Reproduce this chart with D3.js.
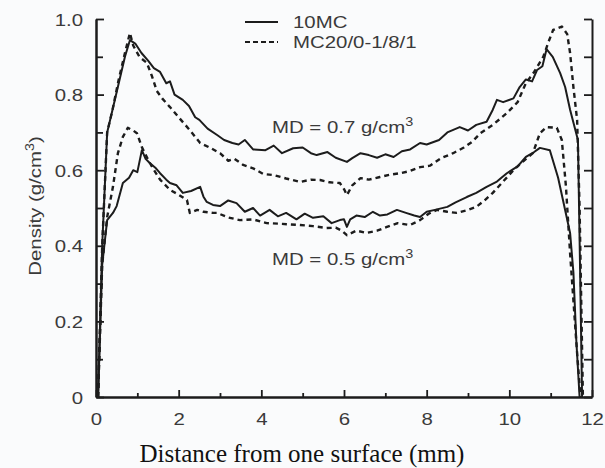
<!DOCTYPE html>
<html>
<head>
<meta charset="utf-8">
<script src="https://cdn.jsdelivr.net/npm/d3@7"></script>
<style>
  body { margin: 0; background: #fafbfc; }
  svg { display: block; }
</style>
</head>
<body>
<div class="canva"></div>
<script>
// density profiles
const mc10_07_x = [0.05,0.15,0.27,0.4,0.55,0.7,0.82,0.95,1.1,1.26,1.4,1.55,1.7,1.79,1.9,2.1,2.25,2.4,2.5,2.7,2.93,3.1,3.3,3.45,3.6,3.8,4.1,4.3,4.5,4.77,5.0,5.2,5.34,5.6,5.8,6.07,6.2,6.4,6.6,6.8,7.0,7.2,7.4,7.6,7.84,8.0,8.3,8.5,8.8,9.0,9.2,9.45,9.6,9.7,9.85,10.1,10.25,10.4,10.55,10.67,10.8,10.9,11.05,11.23,11.35,11.47,11.66,11.71,11.76];
const mc10_07_y = [0,0.4,0.70,0.76,0.83,0.9,0.944,0.935,0.91,0.89,0.87,0.86,0.83,0.835,0.8,0.786,0.77,0.74,0.733,0.71,0.693,0.68,0.672,0.668,0.68,0.655,0.653,0.665,0.645,0.658,0.66,0.645,0.64,0.648,0.633,0.622,0.632,0.645,0.64,0.633,0.642,0.635,0.65,0.655,0.672,0.668,0.68,0.70,0.714,0.705,0.72,0.728,0.76,0.786,0.78,0.79,0.82,0.84,0.835,0.865,0.875,0.92,0.9,0.857,0.82,0.76,0.68,0.35,0];

const mc20_07_x = [0.05,0.15,0.27,0.4,0.55,0.7,0.82,0.9,1.05,1.23,1.35,1.47,1.6,1.79,2.0,2.27,2.52,2.75,3.0,3.2,3.35,3.56,3.8,4.05,4.3,4.6,4.94,5.2,5.42,5.65,5.9,6.0,6.07,6.2,6.4,6.6,6.87,7.1,7.36,7.6,7.84,8.08,8.35,8.64,8.9,9.1,9.3,9.6,9.94,10.2,10.4,10.6,10.82,10.95,11.06,11.27,11.4,11.47,11.55,11.64,11.7,11.78];
const mc20_07_y = [0,0.4,0.70,0.76,0.84,0.91,0.963,0.93,0.9,0.884,0.85,0.81,0.79,0.767,0.74,0.706,0.672,0.66,0.645,0.625,0.63,0.614,0.605,0.59,0.587,0.578,0.569,0.575,0.574,0.568,0.566,0.55,0.534,0.56,0.579,0.575,0.582,0.588,0.592,0.598,0.608,0.612,0.632,0.645,0.66,0.675,0.698,0.72,0.751,0.78,0.83,0.86,0.9,0.94,0.971,0.98,0.96,0.91,0.82,0.733,0.5,0];

const mc10_05_x = [0.05,0.15,0.27,0.41,0.5,0.65,0.8,0.9,1.0,1.11,1.2,1.3,1.45,1.55,1.7,1.79,1.95,2.1,2.3,2.52,2.6,2.68,2.83,3.0,3.2,3.4,3.6,3.8,3.97,4.2,4.4,4.6,4.85,5.05,5.25,5.5,5.7,5.9,6.0,6.07,6.15,6.3,6.5,6.7,6.87,7.05,7.28,7.5,7.7,7.84,8.0,8.2,8.5,8.7,8.97,9.2,9.45,9.7,9.94,10.2,10.4,10.6,10.74,10.98,11.18,11.3,11.47,11.55,11.62,11.7];
const mc10_05_y = [0,0.35,0.468,0.487,0.505,0.566,0.58,0.6,0.595,0.653,0.63,0.619,0.605,0.592,0.575,0.566,0.56,0.54,0.545,0.556,0.53,0.516,0.508,0.505,0.52,0.513,0.49,0.5,0.48,0.495,0.478,0.487,0.47,0.485,0.474,0.478,0.46,0.468,0.47,0.45,0.47,0.48,0.476,0.49,0.48,0.483,0.495,0.487,0.48,0.476,0.49,0.495,0.503,0.515,0.529,0.54,0.556,0.57,0.592,0.61,0.635,0.648,0.659,0.653,0.58,0.52,0.434,0.33,0.15,0];

const mc20_05_x = [0.05,0.15,0.27,0.41,0.53,0.65,0.77,0.9,0.99,1.11,1.25,1.35,1.55,1.79,2.0,2.2,2.27,2.45,2.6,2.83,2.93,3.2,3.48,3.8,4.13,4.5,4.94,5.25,5.58,5.8,5.95,6.07,6.3,6.55,6.8,7.04,7.3,7.6,7.84,8.05,8.25,8.5,8.73,9.0,9.2,9.4,9.6,9.85,10.1,10.35,10.57,10.74,10.9,11.15,11.27,11.37,11.47,11.64,11.72];
const mc20_05_y = [0,0.35,0.476,0.556,0.645,0.688,0.712,0.705,0.698,0.661,0.63,0.61,0.575,0.548,0.535,0.521,0.487,0.495,0.49,0.487,0.487,0.475,0.468,0.47,0.46,0.458,0.455,0.452,0.447,0.448,0.44,0.428,0.44,0.434,0.44,0.45,0.46,0.455,0.468,0.485,0.495,0.49,0.487,0.495,0.503,0.52,0.54,0.57,0.6,0.625,0.645,0.698,0.714,0.712,0.68,0.556,0.38,0.116,0];

const xMajor = [0, 2, 4, 6, 8, 10, 12];
const xMinor = [1, 3, 5, 7, 9, 11];
const yMajor = [0, 0.2, 0.4, 0.6, 0.8, 1.0];
const yMinor = [0.1, 0.3, 0.5, 0.7, 0.9];
const legendNames = ["10MC", "MC20/0-1/8/1"];

const W = 605, H = 468;
const margin = {top: 19, right: 13, bottom: 71, left: 96};
const graphWidth = W - margin.left - margin.right;
const graphHeight = H - margin.top - margin.bottom;
const ink = "#1c1c1c";
const textCol = "#3a3a3a";
const sans = "'Liberation Sans', Arial, sans-serif";

const svg = d3.select(".canva").append("svg")
    .attr("width", W)
    .attr("height", H);

const graph = svg.append("g")
    .attr("transform", `translate(${margin.left}, ${margin.top})`);

const x = d3.scaleLinear().domain([0, 12]).range([0, graphWidth]);
const y = d3.scaleLinear().domain([0, 1]).range([graphHeight, 0]);

function styleAxis(g) {
  g.attr("font-family", sans).attr("font-size", 17);
  g.selectAll(".domain").attr("stroke", ink).attr("stroke-width", 2);
  g.selectAll(".tick line").attr("stroke", ink).attr("stroke-width", 1.8);
  g.selectAll("text").attr("fill", textCol);
}

// left axis
graph.append("g")
    .call(d3.axisLeft(y).tickValues(yMinor).tickSize(-7).tickSizeOuter(0).tickFormat(""))
    .call(styleAxis);
const yAxisGroup = graph.append("g")
    .call(d3.axisLeft(y).tickValues(yMajor).tickSize(-8).tickSizeOuter(0)
      .tickFormat(d => d === 0 ? "0" : d3.format(".1f")(d)))
    .call(styleAxis);
yAxisGroup.selectAll("text")
    .attr("x", 0).attr("dy", "0.36em")
    .attr("transform", "translate(-13,0) scale(1.2,1)");

// right axis
const rightAxis = graph.append("g").attr("transform", `translate(${graphWidth},0)`);
rightAxis.append("g")
    .call(d3.axisRight(y).tickValues(yMinor.concat(yMajor)).tickSize(-8).tickSizeOuter(0).tickFormat(""))
    .call(styleAxis);

// bottom axis
graph.append("g")
    .attr("transform", `translate(0, ${graphHeight})`)
    .call(d3.axisBottom(x).tickValues(xMinor).tickSize(-4).tickSizeOuter(0).tickFormat(""))
    .call(styleAxis);
const xAxisGroup = graph.append("g")
    .attr("transform", `translate(0, ${graphHeight})`)
    .call(d3.axisBottom(x).tickValues(xMajor).tickSize(-7).tickSizeOuter(0).tickFormat(d3.format("d")))
    .call(styleAxis);
xAxisGroup.selectAll("text")
    .attr("y", 0).attr("dy", 0)
    .attr("transform", "translate(0,28) scale(1.2,1)");

// curves
const line = d3.line().x(d => x(d[0])).y(d => y(d[1]));
const series = [
  {xs: mc10_07_x, ys: mc10_07_y, dash: null},
  {xs: mc20_07_x, ys: mc20_07_y, dash: "5,4"},
  {xs: mc10_05_x, ys: mc10_05_y, dash: null},
  {xs: mc20_05_x, ys: mc20_05_y, dash: "5,4"}
];
graph.selectAll("path.curve")
    .data(series)
    .enter().append("path")
    .attr("class", "curve")
    .attr("d", s => line(s.xs.map((v, i) => [v, s.ys[i]])))
    .attr("fill", "none")
    .attr("stroke", ink)
    .attr("stroke-width", d => d.dash ? 2.4 : 2)
    .attr("stroke-linejoin", "round")
    .attr("stroke-dasharray", d => d.dash);

// legend
const legend = svg.append("g").attr("transform", "translate(245, 22)");
legendNames.forEach((name, i) => {
  const row = legend.append("g").attr("transform", `translate(0, ${i * 20})`);
  row.append("line")
      .attr("x1", 0).attr("x2", 33).attr("y1", 0).attr("y2", 0)
      .attr("stroke", ink).attr("stroke-width", 2)
      .attr("stroke-dasharray", i === 1 ? "5,3" : null);
  row.append("text")
      .attr("transform", "translate(48, 6) scale(1.2,1)")
      .attr("font-family", sans).attr("font-size", 17)
      .attr("fill", textCol)
      .text(name);
});

// MD annotations
function mdLabel(val, px, py) {
  const t = svg.append("text")
      .attr("transform", `translate(${px}, ${py}) scale(1.2,1)`)
      .attr("font-family", sans).attr("font-size", 17)
      .attr("fill", textCol);
  t.append("tspan").text(`MD = ${val} g/cm`);
  t.append("tspan").attr("dy", -7).attr("font-size", 12).text("3");
}
mdLabel("0.7", 272, 133);
mdLabel("0.5", 272, 265);

// axis titles
const yTitle = svg.append("text")
    .attr("transform", "translate(41, 206) rotate(-90) scale(1.2,1)")
    .attr("text-anchor", "middle")
    .attr("font-family", sans).attr("font-size", 17)
    .attr("fill", textCol);
yTitle.append("tspan").text("Density (g/cm");
yTitle.append("tspan").attr("dy", -7).attr("font-size", 12).text("3");
yTitle.append("tspan").attr("dy", 7).text(")");

svg.append("text")
    .attr("x", 302).attr("y", 462)
    .attr("text-anchor", "middle")
    .attr("font-family", "'Liberation Serif', 'Times New Roman', serif")
    .attr("font-size", 25)
    .attr("fill", "#111")
    .text("Distance from one surface (mm)");
</script>
</body>
</html>
